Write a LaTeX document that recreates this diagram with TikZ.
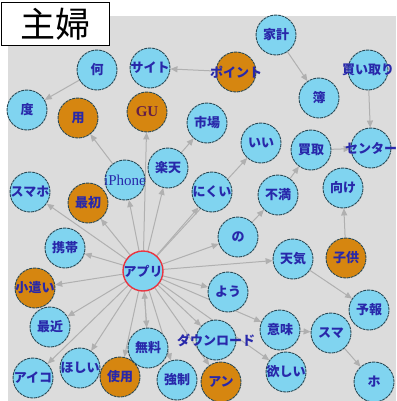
\documentclass[tikz,border=0pt]{standalone}
\usepackage{fontspec}
\setmainfont{Liberation Serif}
\newfontfamily\jp{Noto Sans CJK JP}
\usetikzlibrary{arrows.meta}
\pgfdeclarelayer{back}
\pgfdeclarelayer{edges}
\pgfsetlayers{back,edges,main}
\definecolor{bgc}{RGB}{220,220,220}
\definecolor{nblue}{RGB}{128,212,240}
\definecolor{norange}{RGB}{214,134,16}
\definecolor{ntext}{RGB}{40,40,170}
\definecolor{gutext}{RGB}{100,30,70}
\definecolor{nborder}{RGB}{40,72,84}
\definecolor{ecol}{RGB}{176,176,176}
\definecolor{hred}{RGB}{232,52,64}
\begin{document}
\begin{tikzpicture}[x=1pt,y=-1pt,
  bn/.style={circle, minimum size=40pt, inner sep=0pt, fill=nblue, draw=nborder, line width=0.9pt, dash pattern=on 3pt off 0.8pt},
  on/.style={bn, fill=norange},
  hub/.style={bn, draw=hred, line width=1.4pt, solid},
  lbl/.style={font={\jp\bfseries\fontsize{13}{13}\selectfont}, text=ntext, inner sep=0pt},
  lblr/.style={font={\fontsize{15}{15}\selectfont}, text=ntext, inner sep=0pt},
  ed/.style={draw=ecol, line width=1pt, -{Triangle[length=7pt,width=6pt]}},
  titlebox/.style={draw=black, fill=white, line width=1.6pt, minimum width=108pt, minimum height=43pt, inner sep=0pt, font={\jp\fontsize{35}{35}\selectfont}}]
\useasboundingbox (0,0) rectangle (396,401);
\clip (0,0) rectangle (396,401);
\begin{pgfonlayer}{back}
\fill[bgc] (8,16) rectangle (396,401);
\end{pgfonlayer}
% nodes
\node[bn, label={[lbl]center:家計}] (kakei) at (276,35) {};
\node[on, label={[lbl]center:ポイント}] (point) at (236,72) {};
\node[bn, label={[lbl]center:サイト}] (site) at (150,68) {};
\node[bn, label={[lbl]center:何}] (nani) at (97,70) {};
\node[bn, label={[lbl]center:度}] (do) at (27,110) {};
\node[on, label={[lbl]center:用}] (you) at (78,118) {};
\node[on, label={[lblr, font={\bfseries\fontsize{15}{15}\selectfont}, text=gutext]center:GU}] (gu) at (147,112) {};
\node[bn, label={[lbl]center:買い取り}] (kaitori) at (368,70) {};
\node[bn, label={[lbl]center:簿}] (bo) at (319,98) {};
\node[bn, label={[lbl]center:市場}] (shijo) at (207,123) {};
\node[bn, label={[lbl]center:いい}] (ii) at (261,143) {};
\node[bn, label={[lbl]center:買取}] (kaitorib) at (311,150) {};
\node[bn, label={[lbl]center:センター}] (center) at (371,148) {};
\node[bn, label={[lbl]center:楽天}] (rakuten) at (168,168) {};
\node[bn, label={[lblr]center:iPhone}] (iphone) at (125,180) {};
\node[bn, label={[lbl]center:にくい}] (nikui) at (212,192) {};
\node[bn, label={[lbl]center:不満}] (fuman) at (278,195) {};
\node[bn, label={[lbl]center:向け}] (muke) at (343,188) {};
\node[bn, label={[lbl]center:スマホ}] (sumaho) at (30,192) {};
\node[on, label={[lbl]center:最初}] (saisho) at (88,203) {};
\node[bn, label={[lbl]center:携帯}] (keitai) at (65,248) {};
\node[bn, label={[lbl]center:の}] (no) at (238,237) {};
\node[bn, label={[lbl]center:天気}] (tenki) at (293,259) {};
\node[on, label={[lbl]center:子供}] (kodomo) at (346,258) {};
\node[hub, label={[lbl]center:アプリ}] (apuri) at (143,271) {};
\node[bn, label={[lbl]center:よう}] (youb) at (228,292) {};
\node[on, label={[lbl]center:小遣い}] (kozukai) at (35,288) {};
\node[bn, label={[lbl]center:予報}] (yohou) at (369,310) {};
\node[bn, label={[lbl]center:最近}] (saikin) at (50,327) {};
\node[bn, label={[lbl]center:無料}] (muryo) at (148,348) {};
\node[bn, label={[lbl]center:ダウンロード}] (dl) at (216,340) {};
\node[bn, label={[lbl]center:意味}] (imi) at (280,330) {};
\node[bn, label={[lbl]center:スマ}] (suma) at (331,333) {};
\node[bn, label={[lbl]center:欲しい}] (hoshiib) at (286,372) {};
\node[bn, label={[lbl]center:アイコ}] (aiko) at (33,378) {};
\node[bn, label={[lbl]center:ほしい}] (hoshii) at (80,368) {};
\node[on, label={[lbl]center:使用}] (shiyo) at (120,377) {};
\node[bn, label={[lbl]center:強制}] (kyosei) at (177,380) {};
\node[on, label={[lbl]center:アン}] (an) at (221,382) {};
\node[bn, label={[lbl]center:ホ}] (ho) at (374,382) {};
% title
\node[titlebox] (title) at (55.5,24) {主婦};
% edges
\begin{pgfonlayer}{edges}
\foreach \a/\b in {point/site, nani/do, kakei/bo, kaitori/center, kaitorib/center,
  fuman/kaitorib, no/fuman, kodomo/muke, tenki/yohou, suma/ho, imi/suma,
  rakuten/shijo, iphone/you,
  apuri/gu, apuri/iphone, apuri/rakuten, apuri/nikui, apuri/ii, apuri/no,
  apuri/tenki, apuri/youb, apuri/dl, apuri/imi, apuri/hoshiib, apuri/an,
  apuri/kyosei, apuri/muryo, muryo/apuri, apuri/shiyo, apuri/hoshii,
  apuri/aiko, apuri/saikin, apuri/kozukai, apuri/keitai, apuri/saisho,
  apuri/sumaho}
  \draw[ed] (\a) -- (\b);
\end{pgfonlayer}
\end{tikzpicture}
\end{document}
